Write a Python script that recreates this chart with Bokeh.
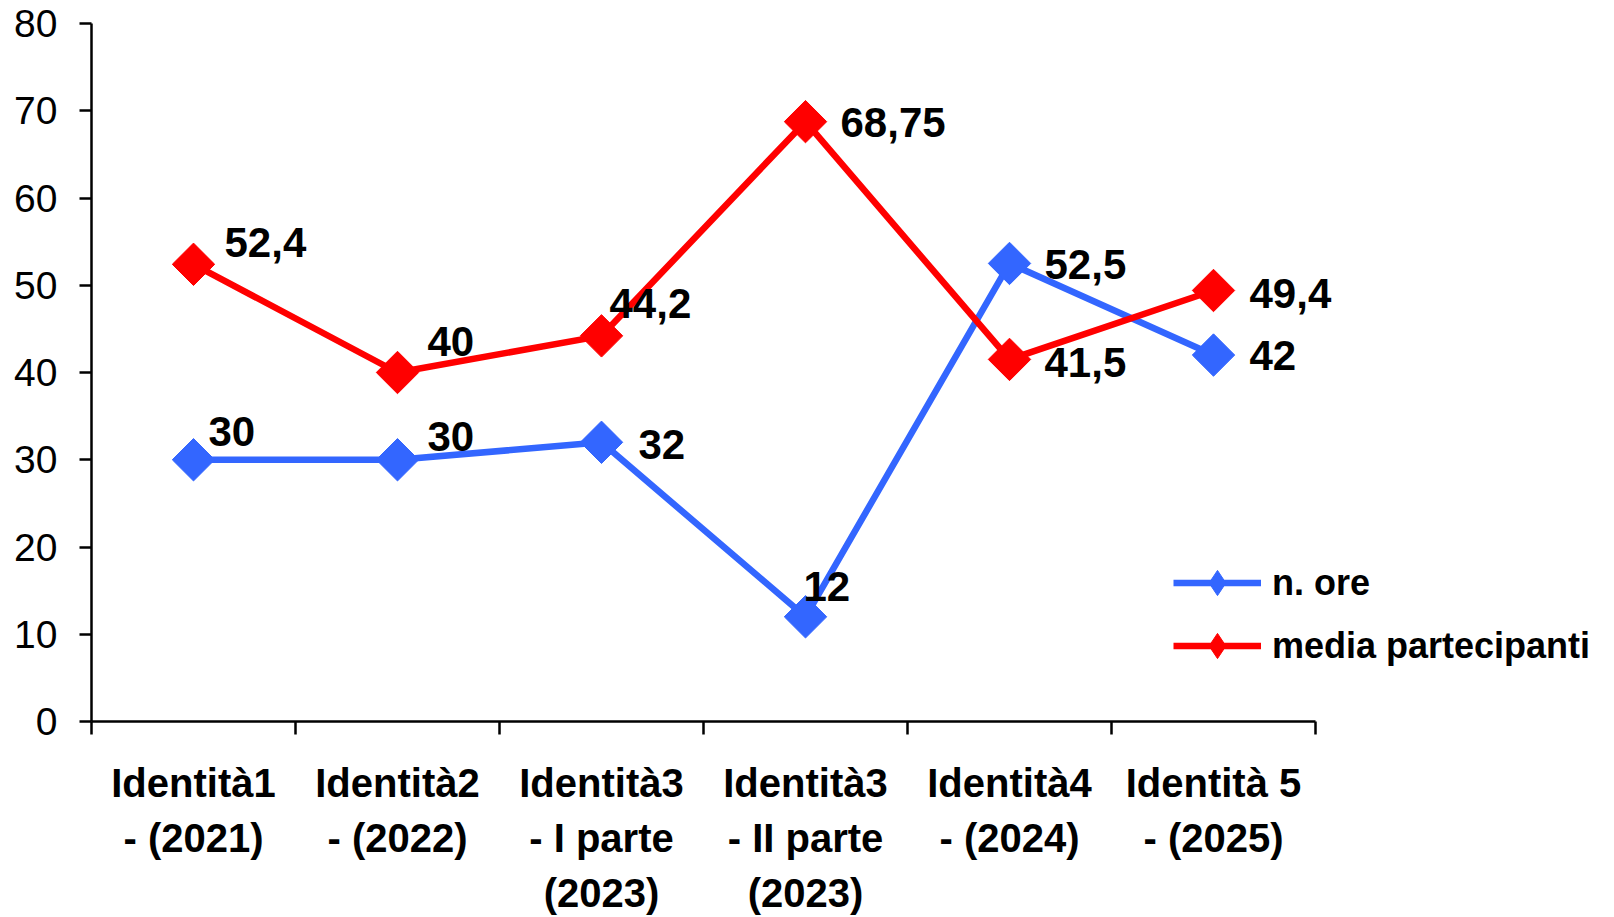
import math
from bokeh.plotting import figure
from bokeh.models import (Range1d, FixedTicker, CustomJSTickFormatter, ColumnDataSource,
                          Legend, LegendItem)
from bokeh.core.properties import value
from bokeh.embed import file_html
from bokeh.resources import INLINE

# ---- data ----
categories = ["Identità1\n- (2021)", "Identità2\n- (2022)", "Identità3\n- I parte\n(2023)",
              "Identità3\n- II parte\n(2023)", "Identità4\n- (2024)", "Identità 5\n- (2025)"]
n_ore = [30, 30, 32, 12, 52.5, 42]
media_partecipanti = [52.4, 40, 44.2, 68.75, 41.5, 49.4]
n_ore_labels = ["30", "30", "32", "12", "52,5", "42"]
media_labels = ["52,4", "40", "44,2", "68,75", "41,5", "49,4"]
y_ticks = [0, 10, 20, 30, 40, 50, 60, 70, 80]

# label placement (pixel offsets from each point)
n_ore_dx = [15, 30, 37, -2, 35, 36]
n_ore_dy = [-28, -23, 2, -30, 1, 0]
media_dx = [31, 30, 8, 35, 35, 36]
media_dy = [-22, -31, -32, 1, 3, 3]

BLUE = "#3366FF"
RED = "#FF0000"
FONT = "Liberation Sans"

# layout (pixels)
W, H = 1606, 917
LEFT, TOP, PLOT_H = 91, 23, 698
AXIS_W = 1224                       # width of the category axis
FRAME_W = W - LEFT                  # frame extends right to hold the legend
n = len(categories)
x_end = n * FRAME_W / AXIS_W

xs = [i + 0.5 for i in range(n)]

p = figure(width=W, height=H, output_backend="svg", toolbar_location=None,
           x_range=Range1d(0, x_end), y_range=Range1d(0, 80),
           min_border_left=LEFT, min_border_right=0, min_border_top=TOP,
           min_border_bottom=H - TOP - PLOT_H)
p.outline_line_color = None
p.xgrid.visible = False
p.ygrid.visible = False
p.background_fill_color = "white"
p.border_fill_color = "white"

# y axis
ya = p.yaxis[0]
ya.ticker = FixedTicker(ticks=y_ticks, minor_ticks=[])
ya.axis_line_width = 2.5
ya.axis_line_color = "black"
ya.major_tick_line_width = 2.5
ya.major_tick_out = 12
ya.major_tick_in = 0
ya.minor_tick_line_color = None
ya.major_label_text_font = FONT
ya.major_label_text_font_size = "39px"
ya.major_label_text_color = "black"
ya.major_label_standoff = 22

# x axis: ticks at category boundaries (minor), labels at centres
xa = p.xaxis[0]
xa.bounds = (0, n)
xa.ticker = FixedTicker(ticks=xs, minor_ticks=list(range(n + 1)))
xa.formatter = CustomJSTickFormatter(args=dict(labels=categories),
                                     code="return labels[Math.floor(tick)];")
xa.axis_line_width = 2.5
xa.axis_line_color = "black"
xa.major_tick_line_color = None
xa.major_tick_out = 0
xa.major_tick_in = 0
xa.minor_tick_line_width = 2.5
xa.minor_tick_line_color = "black"
xa.minor_tick_out = 13
xa.minor_tick_in = 0
xa.major_label_text_font = FONT
xa.major_label_text_font_style = "bold"
xa.major_label_text_font_size = "40px"
xa.major_label_text_line_height = 1.25
xa.major_label_text_color = "black"
xa.major_label_standoff = 26

# series
bl = p.line(xs, n_ore, line_width=6.5, line_color=BLUE)
rl = p.line(xs, media_partecipanti, line_width=6.5, line_color=RED)
# diamonds used for the legend (hidden under the point markers)
bd = p.scatter(xs, n_ore, marker="diamond", size=20, fill_color=BLUE, line_color=BLUE)
rd = p.scatter(xs, media_partecipanti, marker="diamond", size=20, fill_color=RED, line_color=RED)
p.scatter(xs, n_ore, marker="square", size=30, angle=math.pi / 4,
          fill_color=BLUE, line_color=BLUE)
p.scatter(xs, media_partecipanti, marker="square", size=30, angle=math.pi / 4,
          fill_color=RED, line_color=RED)

# data labels
for vals, labs, dx, dy in ((n_ore, n_ore_labels, n_ore_dx, n_ore_dy),
                           (media_partecipanti, media_labels, media_dx, media_dy)):
    src = ColumnDataSource(dict(x=xs, y=vals, t=labs, dx=dx, dy=dy))
    p.text(x="x", y="y", text="t", x_offset="dx", y_offset="dy", source=src,
           text_font=value(FONT), text_font_style="bold", text_font_size="42px",
           text_color="black", text_align="left", text_baseline="alphabetic")

legend = Legend(items=[LegendItem(label="n. ore", renderers=[bl, bd]),
                       LegendItem(label="media partecipanti", renderers=[rl, rd])],
                location=(1082, 44), glyph_width=88, glyph_height=63,
                label_standoff=11, spacing=0, padding=0, margin=0,
                border_line_color=None, background_fill_alpha=0,
                label_text_font=FONT, label_text_font_style="bold",
                label_text_font_size="36px", label_text_color="black")
p.add_layout(legend, "center")

open("out.html", "w").write(file_html(p, INLINE))
